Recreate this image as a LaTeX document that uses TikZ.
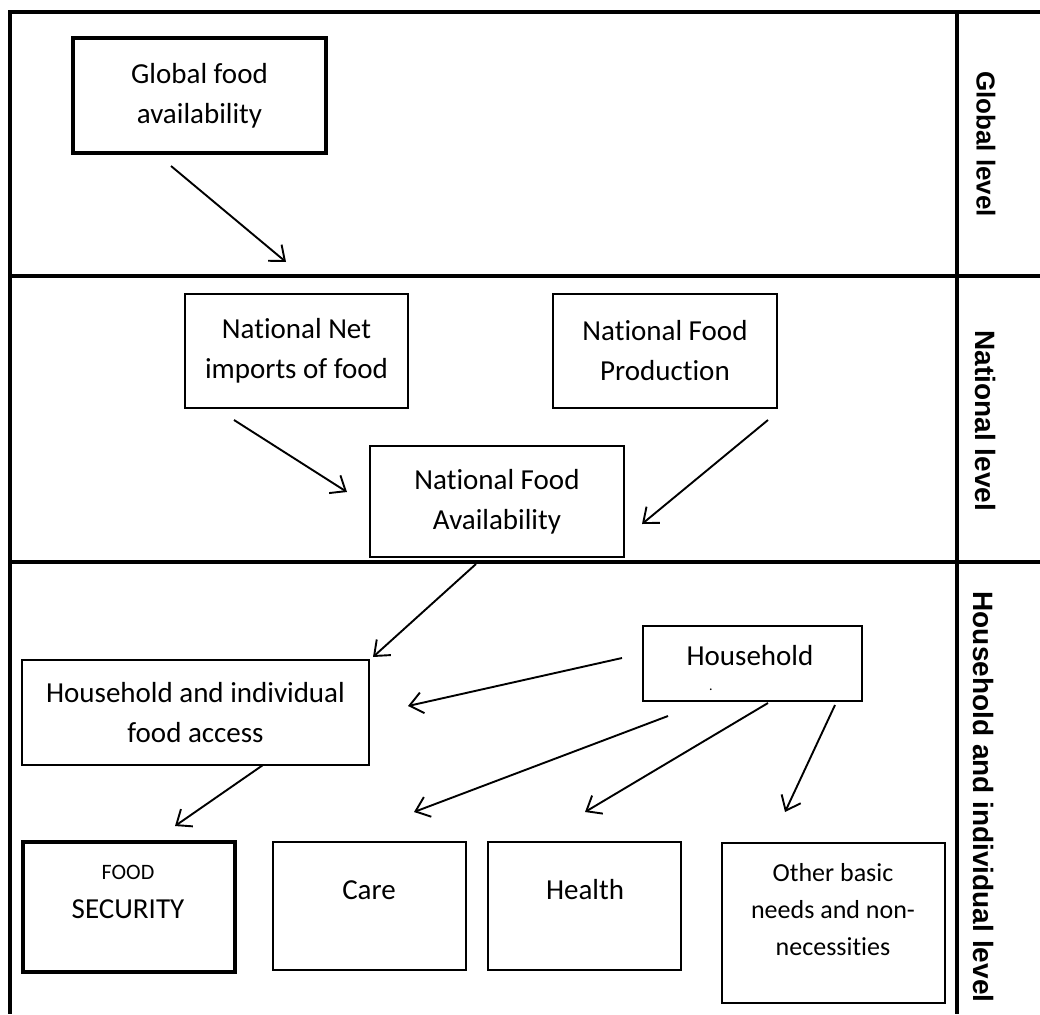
\documentclass[tikz,border=0pt]{standalone}
\usepackage{fontspec}
\setmainfont{Carlito}[Ligatures=NoCommon]
\newfontfamily\lblfont{Liberation Sans Bold}
\usetikzlibrary{arrows.meta}
\begin{document}
\begin{tikzpicture}[x=1pt,y=-1pt,
  frame/.style={line width=4pt},
  box/.style={draw, line width=1.8pt, rectangle, inner sep=0pt, align=center,
    font=\fontsize{29}{40}\selectfont},
  thickbox/.style={box, line width=4pt},
  txt/.style={align=center, font=\fontsize{29}{40}\selectfont, inner sep=0pt},
  arr/.style={line width=1.9pt, -{Straight Barb[length=13pt,width=21pt,line width=1.9pt]}},
  lvl/.style={rotate=-90, inner sep=0pt, font=\lblfont\fontsize{26}{30}\selectfont}]
\useasboundingbox[fill=white] (0,0) rectangle (1040,1014);

% frame
\draw[frame, line join=miter] (1040,12) -- (10,12) -- (10,1014);
\draw[frame] (10,276) -- (1040,276);
\draw[frame] (10,562) -- (1040,562);
\draw[frame] (957,12) -- (957,1014);

% level labels
\node[lvl] (lglobal) at (986,144) {Global level};
\node[lvl, font=\lblfont\fontsize{28}{32}\selectfont] (lnational) at (985,421) {National level};
\node[lvl, font=\lblfont\fontsize{28}{32}\selectfont] (lhousehold) at (983,797) {Household and individual level};

% boxes
\node[thickbox, minimum width=253pt, minimum height=115pt] (gfa) at (199.5,95.5) {Global food\\availability};
\node[box, minimum width=223pt, minimum height=114pt] (nni) at (296.5,351) {National Net\\imports of food};
\node[box, minimum width=224pt, minimum height=114pt] (nfp) at (665,351) {National Food\\Production};
\node[box, minimum width=254pt, minimum height=111pt] (nfa) at (497,501.5) {National Food\\Availability};
\node[box, minimum width=347pt, minimum height=105pt] (acc) at (195.5,712.5) {Household and individual\\food access};
\node[box, minimum width=219pt, minimum height=75pt] (hh) at (752.5,663.5) {};
\node[thickbox, minimum width=212pt, minimum height=130pt] (fs) at (129,907) {};
\node[box, minimum width=193pt, minimum height=128pt] (care) at (369.5,906) {};
\node[box, minimum width=193pt, minimum height=128pt] (health) at (584.5,906) {};
\node[box, minimum width=223pt, minimum height=160pt] (other) at (833.5,923) {};

% texts placed in the upper part of boxes
\node[txt, anchor=base] (hhtext) at (750,665) {Household};
\node[inner sep=0pt, anchor=base, font=\fontsize{14}{14}\selectfont] (hhdot) at (711,690) {.};
\node[txt, anchor=base, font=\fontsize{22}{26}\selectfont] (fstext1) at (128,879) {FOOD};
\node[txt, anchor=base] (fstext2) at (128,918) {SECURITY};
\node[txt, anchor=base] (caretext) at (369,899) {Care};
\node[txt, anchor=base] (healthtext) at (585,899) {Health};
\node[txt, font=\fontsize{26}{37}\selectfont] (othertext) at (833,910) {Other basic\\needs and non-\\necessities};

% arrow end points
\coordinate (a1s) at (171,166);  \coordinate (a1e) at (286,262);
\coordinate (a2s) at (234,420);  \coordinate (a2e) at (347,492);
\coordinate (a3s) at (768,420);  \coordinate (a3e) at (642,524);
\coordinate (a4s) at (476,564);  \coordinate (a4e) at (373,657);
\coordinate (a5s) at (622,658);  \coordinate (a5e) at (408,706);
\coordinate (a6s) at (263,765);  \coordinate (a6e) at (175,826);
\coordinate (a7s) at (668,716);  \coordinate (a7e) at (414,812);
\coordinate (a8s) at (768,703);  \coordinate (a8e) at (585,812);
\coordinate (a9s) at (835,705);  \coordinate (a9e) at (785,812);

\draw[arr] (a1s) -- (a1e);
\draw[arr] (a2s) -- (a2e);
\draw[arr] (a3s) -- (a3e);
\draw[arr] (a4s) -- (a4e);
\draw[arr] (a5s) -- (a5e);
\draw[arr] (a6s) -- (a6e);
\draw[arr] (a7s) -- (a7e);
\draw[arr] (a8s) -- (a8e);
\draw[arr] (a9s) -- (a9e);
\end{tikzpicture}
\end{document}
